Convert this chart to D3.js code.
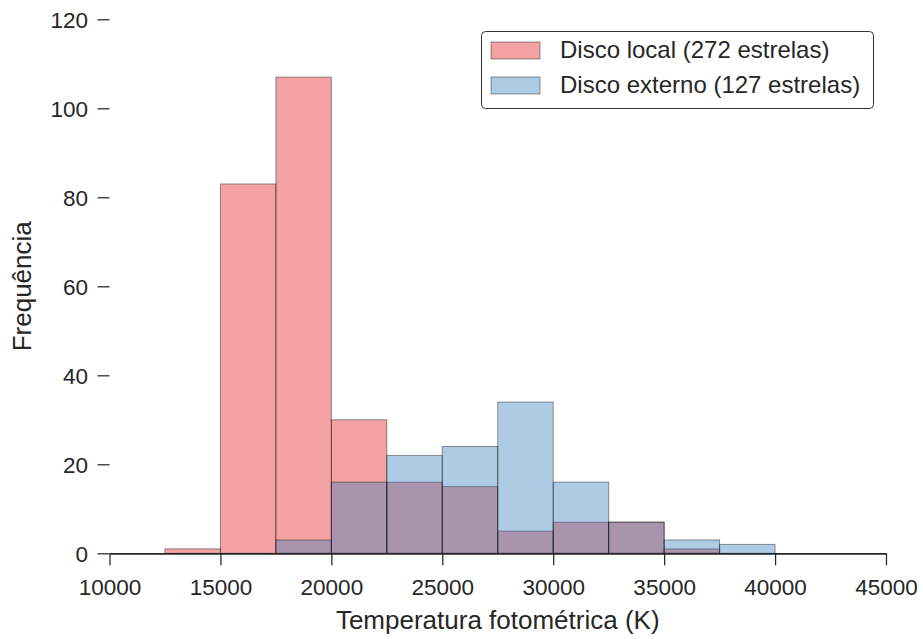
<!DOCTYPE html>
<html>
<head>
<meta charset="utf-8">
<script src="https://cdn.jsdelivr.net/npm/d3@7"></script>
<style>
  html, body { margin: 0; padding: 0; background: #ffffff; }
  svg { display: block; font-family: "Liberation Sans", Arial, Helvetica, sans-serif; }
</style>
</head>
<body>
<svg id="chart" width="923" height="639"></svg>
<script>
// Histogram bins (left edges, K) and counts per population
const binWidth = 2500;
const localBins = [12500, 15000, 17500, 20000, 22500, 25000, 27500, 30000, 32500, 35000];
const localCounts = [1, 83, 107, 30, 16, 15, 5, 7, 7, 1];
const externalBins = [17500, 20000, 22500, 25000, 27500, 30000, 32500, 35000, 37500];
const externalCounts = [3, 16, 22, 24, 34, 16, 7, 3, 2];

const xTicks = [10000, 15000, 20000, 25000, 30000, 35000, 40000, 45000];
const yTicks = [0, 20, 40, 60, 80, 100, 120];

const seriesNames = ["Disco local (272 estrelas)", "Disco externo (127 estrelas)"];
const seriesColors = ["#e41a1c", "#377eb8"];

const xLabel = "Temperatura fotométrica (K)";
const yLabel = "Frequência";

const textColor = "#262626";
const svg = d3.select("#chart");

const x = d3.scaleLinear().domain([10000, 45000]).range([109.5, 886]);
const y = d3.scaleLinear().domain([0, 120]).range([553.3, 19.3]);

// Bars: local disc first, external disc drawn over it
function drawBars(bins, counts, color) {
  const data = bins.map((b, i) => ({ x0: b, x1: b + binWidth, n: counts[i] }));
  svg.append("g")
    .selectAll("rect")
    .data(data)
    .join("rect")
    .attr("x", d => x(d.x0))
    .attr("width", d => x(d.x1) - x(d.x0))
    .attr("y", d => y(d.n))
    .attr("height", d => y(0) - y(d.n))
    .attr("fill", color)
    .attr("fill-opacity", 0.4)
    .attr("stroke", "#000")
    .attr("stroke-opacity", 0.4)
    .attr("stroke-width", 1);
}
drawBars(localBins, localCounts, seriesColors[0]);
drawBars(externalBins, externalCounts, seriesColors[1]);

// X axis with spine
const xAxis = svg.append("g")
  .attr("transform", `translate(0,${y(0)})`)
  .call(d3.axisBottom(x).tickValues(xTicks).tickFormat(d3.format("d")).tickSize(12).tickSizeOuter(0));
xAxis.select(".domain").attr("stroke", textColor).attr("stroke-width", 1.8);
xAxis.selectAll(".tick line").attr("stroke", textColor).attr("stroke-width", 1.25);
xAxis.selectAll(".tick text")
  .attr("fill", textColor)
  .attr("font-size", 22.5)
  .attr("font-family", "Liberation Sans, Arial, sans-serif")
  .attr("y", 0)
  .attr("dy", 0)
  .attr("transform", "translate(0,42)");

// Y axis: ticks only, no spine
const yAxis = svg.append("g")
  .attr("transform", `translate(${x(10000)},0)`)
  .call(d3.axisLeft(y).tickValues(yTicks).tickSize(12));
yAxis.select(".domain").remove();
yAxis.selectAll(".tick line").attr("stroke", textColor).attr("stroke-width", 1.25);
yAxis.selectAll(".tick text")
  .attr("fill", textColor)
  .attr("font-size", 22.5)
  .attr("font-family", "Liberation Sans, Arial, sans-serif")
  .attr("x", -21.5)
  .attr("dy", "0.36em");

// Axis titles
svg.append("text")
  .attr("x", (x.range()[0] + x.range()[1]) / 2)
  .attr("y", 629)
  .attr("text-anchor", "middle")
  .attr("font-size", 26)
  .attr("fill", textColor)
  .text(xLabel);

svg.append("text")
  .attr("transform", `translate(31,${(y(0) + y(120)) / 2}) rotate(-90)`)
  .attr("text-anchor", "middle")
  .attr("font-size", 26)
  .attr("fill", textColor)
  .text(yLabel);

// Legend
const legend = svg.append("g").attr("transform", "translate(481.5,31.5)");
legend.append("rect")
  .attr("width", 392)
  .attr("height", 77)
  .attr("rx", 4)
  .attr("fill", "#ffffff")
  .attr("stroke", "#333333")
  .attr("stroke-width", 1);
seriesNames.forEach((name, i) => {
  const row = legend.append("g").attr("transform", `translate(0,${10 + i * 35})`);
  row.append("rect")
    .attr("x", 9.5)
    .attr("y", 0.5)
    .attr("width", 49)
    .attr("height", 17)
    .attr("fill", seriesColors[i])
    .attr("fill-opacity", 0.4)
    .attr("stroke", "#000")
    .attr("stroke-opacity", 0.4)
    .attr("stroke-width", 1);
  row.append("text")
    .attr("x", 78.5)
    .attr("y", 16.5)
    .attr("font-size", 24)
    .attr("fill", textColor)
    .text(name);
});
</script>
</body>
</html>
